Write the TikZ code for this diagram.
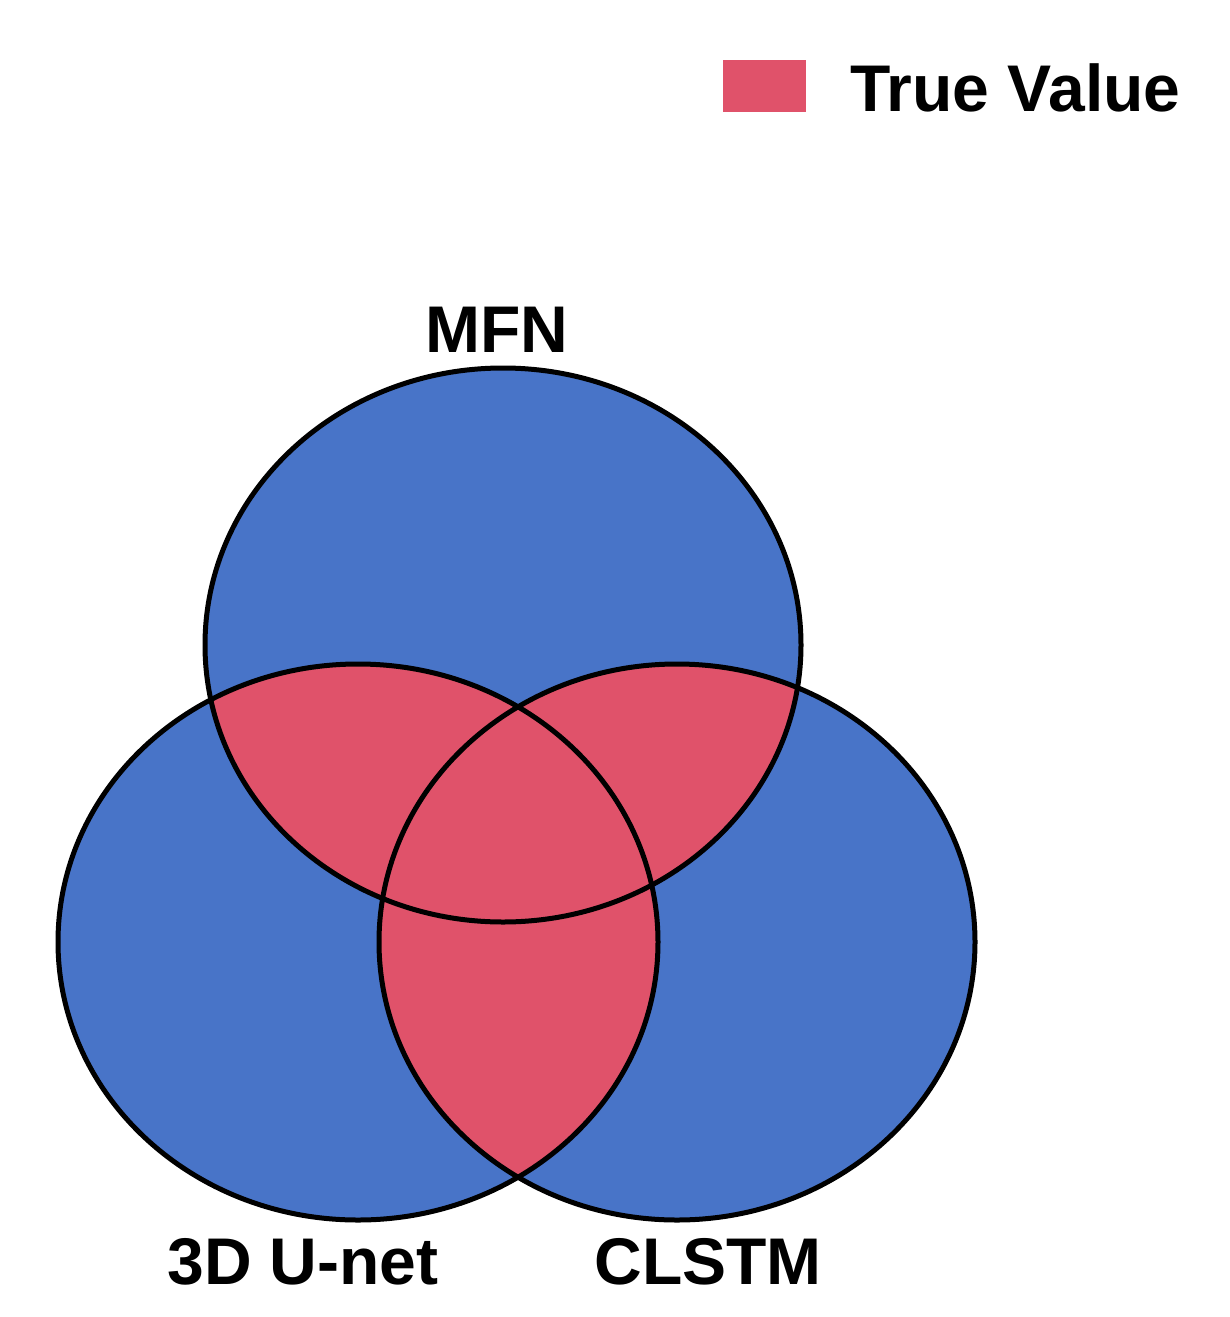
\documentclass[tikz,border=0pt]{standalone}
\usepackage{fontspec}
\setmainfont{Liberation Sans}
\definecolor{vblue}{HTML}{4874C8}
\definecolor{vred}{HTML}{E0526A}
\begin{document}
\begin{tikzpicture}[x=1pt,y=-1pt,
  lab/.style={font=\fontsize{66}{70}\selectfont\bfseries,anchor=center},
  ring/.style={draw=black,line width=5pt}]
\useasboundingbox (0,0) rectangle (1230,1317);
\def\eA{(503,645) ellipse [x radius=298,y radius=277]}
\def\eB{(358,942) ellipse [x radius=300,y radius=278]}
\def\eC{(677,942) ellipse [x radius=298,y radius=278]}
\fill[vblue] \eA; \fill[vblue] \eB; \fill[vblue] \eC;
\begin{scope}\clip \eA; \fill[vred] \eB; \fill[vred] \eC;\end{scope}
\begin{scope}\clip \eB; \fill[vred] \eC;\end{scope}
\draw[ring] \eA; \draw[ring] \eB; \draw[ring] \eC;
\node[lab] (mfn) at (497,330) {MFN};
\node[lab] (unet) at (303,1262) {3D U-net};
\node[lab] (clstm) at (708,1262) {CLSTM};
\node[fill=vred,minimum width=83pt,minimum height=52pt,inner sep=0] (key) at (764.5,86) {};
\node[lab,anchor=west,inner sep=0] (kt) at (850,88) {True Value};
\end{tikzpicture}
\end{document}
